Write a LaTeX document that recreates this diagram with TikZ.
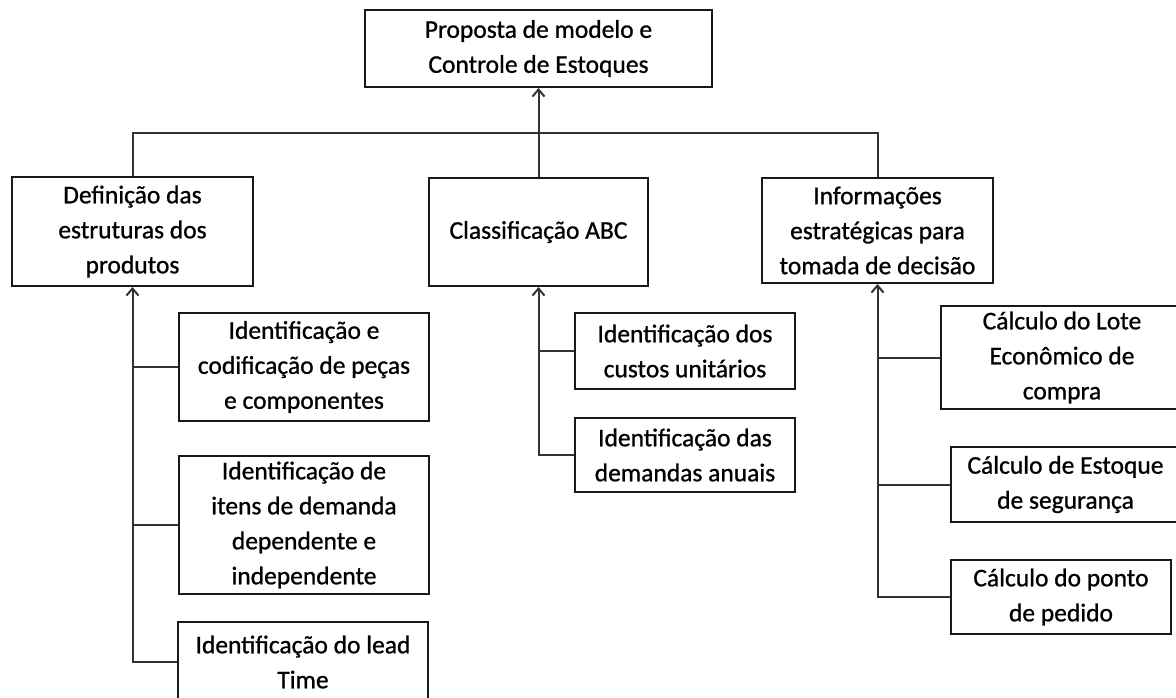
\documentclass[tikz,border=0pt]{standalone}
\usepackage{fontspec}
\setmainfont{Carlito}[FakeBold=0.9]
\usetikzlibrary{arrows.meta}
\begin{document}
\begin{tikzpicture}[x=1pt,y=-1pt,
  box/.style={draw=black!90,line width=2pt,align=center,inner sep=0pt,
    font=\fontsize{25.5}{35}\selectfont},
  link/.style={draw=black!80,line width=2pt},
  tip/.style={-{Straight Barb[length=7pt,width=12pt,line width=2pt]}}]
\useasboundingbox (0,0) rectangle (1176,697);
% boxes
\node[box,minimum width=347pt,minimum height=77pt] (top) at (538.5,48.5) {Proposta de modelo e\\Controle de Estoques};
\node[box,minimum width=241pt,minimum height=109pt] (def) at (132.5,231.5) {Definição das\\estruturas dos\\produtos};
\node[box,minimum width=219pt,minimum height=108pt] (abc) at (538.5,232) {Classificação ABC};
\node[box,minimum width=231pt,minimum height=105pt] (inf) at (877.5,230.5) {Informações\\estratégicas para\\tomada de decisão};
\node[box,minimum width=250pt,minimum height=108pt] (l1) at (304,367) {Identificação e\\codificação de peças\\e componentes};
\node[box,minimum width=250pt,minimum height=138pt] (l2) at (304,525) {Identificação de\\itens de demanda\\dependente e\\independente};
\node[box,minimum width=250pt,minimum height=80pt] (l3) at (303,662) {Identificação do lead\\Time};
\node[box,minimum width=220pt,minimum height=76pt] (m1) at (685,351) {Identificação dos\\custos unitários};
\node[box,minimum width=220pt,minimum height=74pt] (m2) at (685,455) {Identificação das\\demandas anuais};
\node[box,minimum width=242pt,minimum height=103pt] (r1) at (1062,357.5) {Cálculo do Lote\\Econômico de\\compra};
\node[box,minimum width=229pt,minimum height=75pt] (r2) at (1065.5,484.5) {Cálculo de Estoque\\de segurança};
\node[box,minimum width=220pt,minimum height=74pt] (r3) at (1061,597) {Cálculo do ponto\\de pedido};
% top level connectors
\coordinate (bus) at (538.5,133);
\draw[link] (def.north) |- (bus) -| (inf.north);
\draw[link,tip] (abc.north) -- (top.south);
% left branch
\draw[link,tip] (l3.west) -| (def.south);
\draw[link] (l1.west) -- (l1.west -| def.south);
\draw[link] (l2.west) -- (l2.west -| def.south);
% middle branch
\draw[link,tip] (m2.west) -| (abc.south);
\draw[link] (m1.west) -- (m1.west -| abc.south);
% right branch
\draw[link,tip] (r3.west) -| (inf.south);
\draw[link] (r1.west) -- (r1.west -| inf.south);
\draw[link] (r2.west) -- (r2.west -| inf.south);
\end{tikzpicture}
\end{document}
